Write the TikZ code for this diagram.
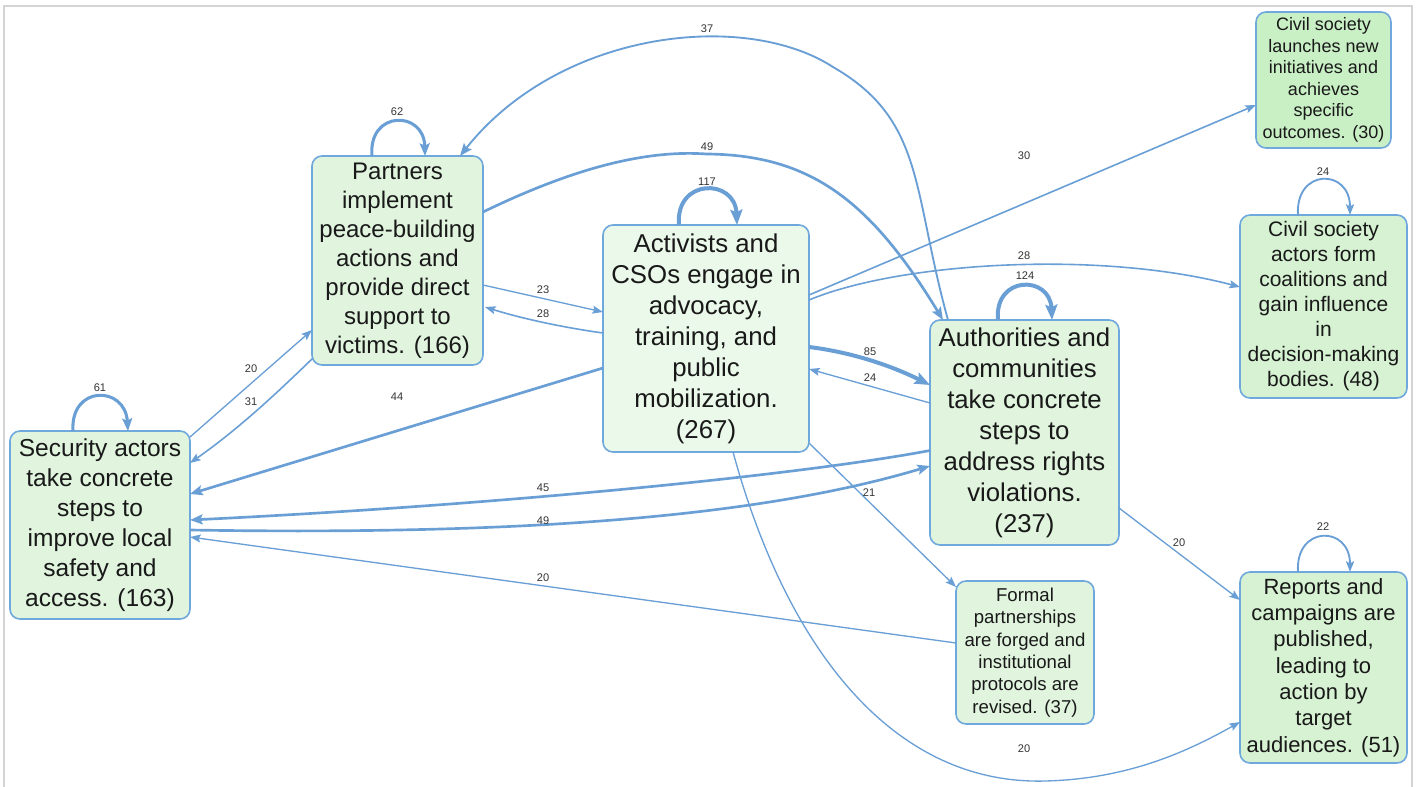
\documentclass[tikz,border=0pt]{standalone}
\usepackage{fontspec}
\setmainfont{Liberation Sans}
\usetikzlibrary{arrows.meta,calc}
\definecolor{edgec}{HTML}{6A9FD6}
\definecolor{nodeline}{HTML}{6FA8DC}
\definecolor{framec}{HTML}{D4D4D4}
\definecolor{lblc}{HTML}{333333}
\definecolor{fillA}{HTML}{E0F4DE}
\definecolor{fillB}{HTML}{EBF9EA}
\definecolor{fillC}{HTML}{C9EFC5}
\definecolor{fillD}{HTML}{D6F2D2}
\begin{document}
\begin{tikzpicture}[x=0.75pt,y=-0.75pt,
  box/.style={draw=nodeline, line width=1.2pt, rounded corners=7.5pt, align=center, inner sep=0pt, outer sep=0pt, text=black!90},
  lbl/.style={font=\fontsize{8.3}{10}\selectfont, text=lblc, inner sep=0pt},
  conn/.style={draw=edgec},
  ar1/.style={-{Stealth[length=8pt,width=6pt,inset=1.5pt]}},
  ar2/.style={-{Stealth[length=9.5pt,width=7.5pt,inset=1.8pt]}},
  ar3/.style={-{Stealth[length=11.5pt,width=9pt,inset=2pt]}},
  wa/.style={line width=1.0pt},
  wb/.style={line width=1.2pt},
  wc/.style={line width=1.4pt},
  wd/.style={line width=2.0pt},
  we/.style={line width=2.3pt},
  wf/.style={line width=3.0pt}
]
\useasboundingbox (0,0) rectangle (1417,786);
\draw[framec, line width=1.5pt] (4,790) -- (4,6) -- (1412,6) -- (1412,790);

% nodes
\node[box, fill=fillA, minimum width=135pt, minimum height=141pt, font=\fontsize{18.4}{22.5}\selectfont] (S) at (100,525)
  {Security actors\\take concrete\\steps to\\improve local\\safety and\\access. (163)};
\node[box, fill=fillA, minimum width=128.25pt, minimum height=156.75pt, font=\fontsize{18}{21.75}\selectfont] (P) at (397.5,260.5)
  {Partners\\implement\\peace-building\\actions and\\provide direct\\support to\\victims. (166)};
\node[box, fill=fillB, minimum width=154.5pt, minimum height=170.25pt, font=\fontsize{19.35}{23.25}\selectfont] (A) at (706,338.5)
  {Activists and\\CSOs engage in\\advocacy,\\training, and\\public\\mobilization.\\(267)};
\node[box, fill=fillA, minimum width=141.75pt, minimum height=168.75pt, font=\fontsize{19.3}{23.25}\selectfont] (U) at (1024.5,432.5)
  {Authorities and\\communities\\take concrete\\steps to\\address rights\\violations.\\(237)};
\node[box, fill=fillC, minimum width=101.25pt, minimum height=102pt, font=\fontsize{13.5}{16.1}\selectfont] (C1) at (1323.5,80)
  {Civil society\\launches new\\initiatives and\\achieves\\specific\\outcomes. (30)};
\node[box, fill=fillD, minimum width=125.25pt, minimum height=137.25pt, font=\fontsize{15.75}{18.75}\selectfont] (C2) at (1323.5,306.5)
  {Civil society\\actors form\\coalitions and\\gain influence\\in\\decision-making\\bodies. (48)};
\node[box, fill=fillA, minimum width=103.5pt, minimum height=107.25pt, font=\fontsize{13.95}{16.8}\selectfont] (F) at (1025,652.5)
  {Formal\\partnerships\\are forged and\\institutional\\protocols are\\revised. (37)};
\node[box, fill=fillD, minimum width=125.25pt, minimum height=143.25pt, font=\fontsize{16.5}{19.7}\selectfont] (R) at (1323.5,667.5)
  {Reports and\\campaigns are\\published,\\leading to\\action by\\target\\audiences. (51)};

% self loops
\draw[conn, we, ar2] ($(S.north)+(-27,0)$) .. controls ($(S.north)+(-30,-46)$) and ($(S.north)+(25,-46)$) .. ($(S.north)+(28,0)$);
\draw[conn, we, ar2] ($(P.north)+(-25.5,0)$) .. controls ($(P.north)+(-29.5,-46)$) and ($(P.north)+(26.5,-46)$) .. ($(P.north)+(27.5,0)$);
\draw[conn, wf, ar3] ($(A.north)+(-27,0)$) .. controls ($(A.north)+(-31,-47)$) and ($(A.north)+(29,-47)$) .. ($(A.north)+(31,0)$);
\draw[conn, wf, ar3] ($(U.north)+(-26.5,0)$) .. controls ($(U.north)+(-30.5,-45)$) and ($(U.north)+(25.5,-45)$) .. ($(U.north)+(27.5,0)$);
\draw[conn, wc, ar1] ($(C2.north)+(-25.5,0)$) .. controls ($(C2.north)+(-28.5,-47)$) and ($(C2.north)+(26.5,-47)$) .. ($(C2.north)+(26.5,0)$);
\draw[conn, wc, ar1] ($(R.north)+(-25.5,0)$) .. controls ($(R.north)+(-28.5,-47)$) and ($(R.north)+(26.5,-47)$) .. ($(R.north)+(26.5,0)$);

% edges
\draw[conn, wa, ar1] ($(S.north east)+(0,6)$) -- ($(P.south west)+(0,-35)$);
\draw[conn, wb, ar1] ($(P.south west)+(1,-7)$) .. controls (280,390) and (240,428) .. ($(S.east)+(0,-62)$);
\draw[conn, wd, ar2] ($(A.west)+(0,29.5)$) -- ($(S.east)+(0,-31)$);
\draw[conn, wa, ar1] ($(P.east)+(0,24.5)$) -- ($(A.west)+(0,-26.5)$);
\draw[conn, wb, ar1] ($(A.west)+(0,-5.5)$) .. controls (560,327) and (520,318) .. ($(P.east)+(2,46.5)$);
\draw[conn, wc, ar2] ($(U.north west)+(18,0)$) .. controls (912,190) and (925,120) .. (833,67)
  .. controls (745,10) and (560,30) .. ($(P.north east)+(-23,0)$);
\draw[conn, wd, ar2] ($(P.east)+(0,-48.5)$) .. controls (580,165) and (650,150) .. (707,154)
  .. controls (810,155) and (870,200) .. ($(U.north west)+(13,0)$);
\draw[conn, wb, ar1] ($(A.east)+(0,-43.5)$) -- ($(C1.west)+(0,25)$);
\draw[conn, wb, ar1] ($(A.east)+(0,-38.5)$) .. controls (900,262) and (1100,250) .. ($(C2.west)+(0,-19.5)$);
\draw[conn, wf, ar3] ($(A.east)+(0,8.5)$) .. controls (850,352) and (890,365) .. ($(U.west)+(0,-47.5)$);
\draw[conn, wa, ar1] ($(U.west)+(0,-29.5)$) -- ($(A.east)+(0,30.5)$);
\draw[conn, wd, ar2] ($(U.west)+(0,18)$) .. controls (800,475) and (500,505) .. ($(S.east)+(0,-5)$);
\draw[conn, wd, ar2] ($(S.east)+(0,5)$) .. controls (500,535) and (750,520) .. ($(U.west)+(0,33.5)$);
\draw[conn, wa, ar1] ($(A.south east)+(0,-9)$) -- ($(F.north west)+(0,6)$);
\draw[conn, wa, ar1] ($(F.west)+(0,-9.5)$) -- ($(S.east)+(0,12)$);
\draw[conn, wa, ar1] ($(U.east)+(0,75.5)$) -- ($(R.west)+(0,-67.5)$);
\draw[conn, wa, ar1] ($(A.south)+(27,0)$) .. controls (790,660) and (900,785) .. (1045,781)
  .. controls (1130,779) and (1190,750) .. ($(R.west)+(0,54.5)$);

% labels
\node[lbl] (l1) at (100,388) {61};
\node[lbl] (l2) at (397,112) {62};
\node[lbl] (l3) at (251,369) {20};
\node[lbl] (l4) at (251,402) {31};
\node[lbl] (l5) at (397,397) {44};
\node[lbl] (l6) at (707,29) {37};
\node[lbl] (l7) at (707,147) {49};
\node[lbl] (l8) at (707,182) {117};
\node[lbl] (l9) at (543,290) {23};
\node[lbl] (l10) at (543,314) {28};
\node[lbl] (l11) at (1024,156) {30};
\node[lbl] (l12) at (1024,256) {28};
\node[lbl] (l13) at (1025,276) {124};
\node[lbl] (l14) at (1323,172) {24};
\node[lbl] (l15) at (870,352) {85};
\node[lbl] (l16) at (870,378) {24};
\node[lbl] (l17) at (543,488) {45};
\node[lbl] (l18) at (543,521) {49};
\node[lbl] (l19) at (869,493) {21};
\node[lbl] (l20) at (543,578) {20};
\node[lbl] (l21) at (1179,543) {20};
\node[lbl] (l22) at (1323,527) {22};
\node[lbl] (l23) at (1024,749) {20};
\end{tikzpicture}
\end{document}
